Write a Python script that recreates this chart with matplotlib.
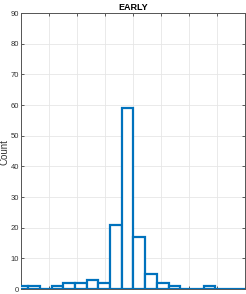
import matplotlib
matplotlib.use("Agg")
import matplotlib.pyplot as plt
import numpy as np

plt.rcParams['font.family'] = ['Liberation Sans', 'DejaVu Sans']

title = "EARLY"
ylabel = "Count"
counts = [1, 1, 0, 1, 2, 2, 3, 2, 21, 59, 17, 5, 2, 1, 0, 0, 1, 0, 0, 0]
yticks = [0, 10, 20, 30, 40, 50, 60, 70, 80, 90]
xgrid = [0, 1, 2, 3, 4, 5, 6, 7, 8]

bin_width = 0.418
first_edge = -0.164
lefts = first_edge + bin_width * np.arange(len(counts))

fig = plt.figure(figsize=(2.46, 2.94), dpi=100)
ax = fig.add_axes([21/246, 5/294, 224/246, 276/294])

ax.bar(lefts, counts, width=bin_width, align="edge", facecolor="white",
       edgecolor="#0072BD", linewidth=1.6, zorder=3, clip_on=True)

ax.set_xlim(0, 8)
ax.set_ylim(0, 90)
ax.set_yticks(yticks)
ax.set_xticks(xgrid)
ax.set_xticklabels([])
ax.grid(True, color="#e6e6e6", linewidth=0.6, zorder=0)
ax.set_axisbelow(True)
ax.tick_params(direction="in", length=2.5, width=0.6, colors="#404040",
               labelsize=5.5, top=True, right=True, pad=1.5)
for s in ax.spines.values():
    s.set_color("#555555")
    s.set_linewidth(0.7)
for lbl in ax.get_yticklabels():
    lbl.set_color("#333333")
ax.set_title(title, fontsize=6.5, fontweight="bold", pad=2)
fig.text(5/246, 1 - 152/294, ylabel, rotation=90, fontsize=7, color="#333333",
         ha="center", va="center")

fig.savefig("out.png", dpi=100)
